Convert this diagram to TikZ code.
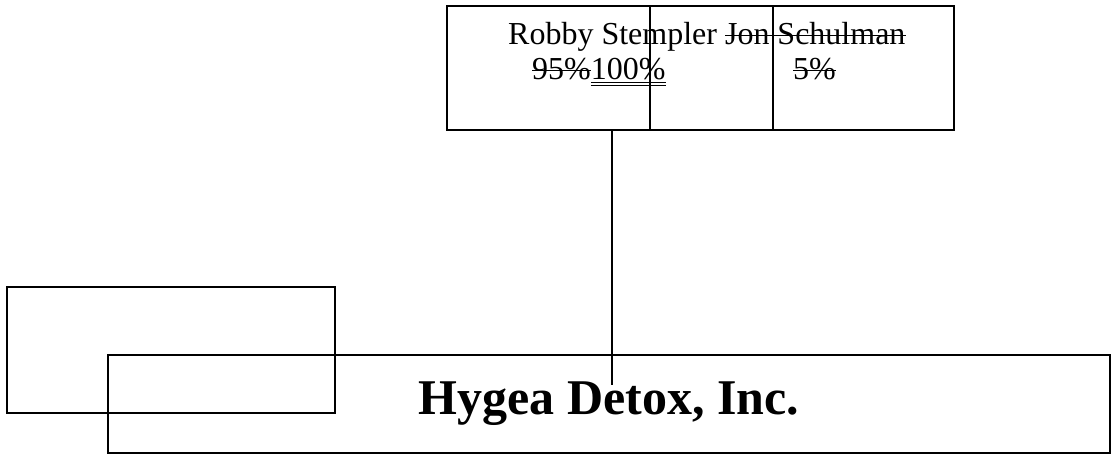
\documentclass[tikz,border=0pt]{standalone}
\usepackage{fontspec}
\setmainfont{Liberation Serif}
\usepackage{tikz}
\usetikzlibrary{positioning,calc}
\newcommand\strk[1]{\setbox0\hbox{#1}\rlap{\rule[0.27em]{\wd0}{0.05em}}\box0}
\newcommand\dul[1]{\setbox0\hbox{#1}\rlap{\rule[-0.1em]{\wd0}{0.035em}}\rlap{\rule[-0.19em]{\wd0}{0.035em}}\box0}

\begin{document}
\begin{tikzpicture}[x=1pt,y=-1pt,
    box/.style={draw,line width=1.6pt,rectangle,anchor=north west,inner sep=0pt,outer sep=0pt},
    owner/.style={anchor=base west,inner sep=0pt,font=\fontsize{32}{38}\selectfont}]
    \useasboundingbox (0,0) rectangle (1114,457);
    \node [box,minimum width=328,minimum height=126] (spare) at (7,287) {};
    \node [box,minimum width=1002,minimum height=98,font=\fontsize{50}{60}\selectfont\bfseries] (hygea) at (108,355) {Hygea Detox, Inc.};
    \node [box,minimum width=507,minimum height=124] (owners) at (447,6) {};
    \draw [line width=1.6pt] ($(owners.north west)+(203,0)$) -- ($(owners.south west)+(203,0)$);
    \draw [line width=1.6pt] ($(owners.north west)+(326,0)$) -- ($(owners.south west)+(326,0)$);
    \node [owner] (names) at (508,45) {Robby Stempler \strk{Jon Schulman}};
    \node [owner] (share) at (532,80) {\strk{95\%}\dul{100\%}};
    \node [owner] (oldshare) at (793,80) {\strk{5\%}};
    \coordinate (tap) at (612,385);
    \draw [line width=1.6pt] (tap |- owners.south) -- (tap);
\end{tikzpicture}
\end{document}
